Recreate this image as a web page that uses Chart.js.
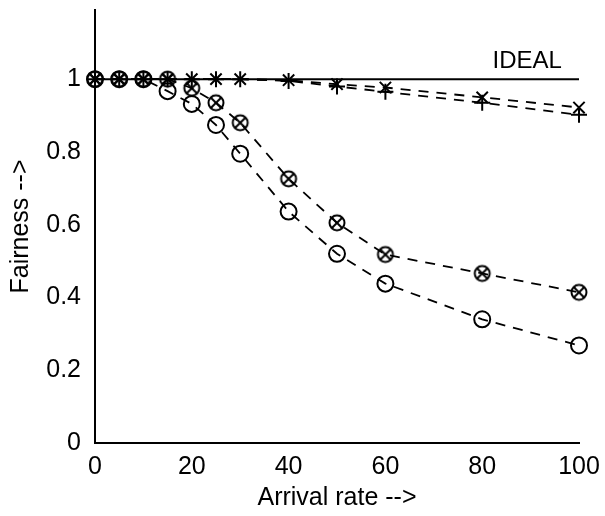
<!DOCTYPE html>
<html>
<head>
<meta charset="utf-8">
<script src="https://cdn.jsdelivr.net/npm/chart.js@4/dist/chart.umd.min.js"></script>
<style>
  html, body { margin: 0; padding: 0; background: #fff; }
  #wrap { width: 605px; height: 516px; }
</style>
</head>
<body>
<div id="wrap"><canvas id="fairChart" width="605" height="516"></canvas></div>
<script>
// arrival rates where each scheme was measured
const rates = [0, 5, 10, 15, 20, 25, 30, 40, 50, 60, 80, 100];

// fairness values
const crossValues  = [1, 1, 1, 1, 1, 1, 1, 0.997, 0.986, 0.977, 0.95, 0.922];
const plusValues   = [1, 1, 1, 1, 1, 1, 1, 0.995, 0.98, 0.965, 0.935, 0.902];
const otimesValues = [1, 1, 1, 1, 0.975, 0.935, 0.88, 0.726, 0.605, 0.518, 0.466, 0.414];
const circleValues = [1, 1, 1, 0.967, 0.932, 0.874, 0.795, 0.636, 0.52, 0.438, 0.34, 0.268];

const idealRates = [0, 100];
const idealValues = [1, 1];

const yTicks = [0, 0.2, 0.4, 0.6, 0.8, 1];
const xTicks = [0, 20, 40, 60, 80, 100];

const FONT = 'Liberation Sans, Arial, Helvetica, sans-serif';

function toPoints(xs, ys) {
  return xs.map((x, i) => ({ x: x, y: ys[i] }));
}

// circle with an x inside it
function makeOtimes() {
  const c = document.createElement('canvas');
  c.width = 20; c.height = 20;
  const g = c.getContext('2d');
  g.strokeStyle = '#000';
  g.lineWidth = 2;
  g.beginPath();
  g.arc(10, 10, 7.5, 0, Math.PI * 2);
  g.stroke();
  g.beginPath();
  g.moveTo(4.7, 4.7); g.lineTo(15.3, 15.3);
  g.moveTo(15.3, 4.7); g.lineTo(4.7, 15.3);
  g.stroke();
  return c;
}

function dashed(label, values, style, radius) {
  return {
    label: label,
    data: toPoints(rates, values),
    borderColor: '#000',
    backgroundColor: 'rgba(0,0,0,0)',
    borderWidth: 1.8,
    borderDash: [10, 8],
    pointStyle: style,
    pointRadius: radius,
    pointBorderWidth: 2,
    pointBorderColor: '#000',
    pointBackgroundColor: 'rgba(0,0,0,0)',
    tension: 0,
    clip: false
  };
}

const idealLabel = {
  id: 'idealLabel',
  afterDatasetsDraw(chart) {
    const ctx = chart.ctx;
    const xs = chart.scales.x, ys = chart.scales.y;
    ctx.save();
    ctx.fillStyle = '#000';
    ctx.font = '24px ' + FONT;
    ctx.textAlign = 'center';
    ctx.textBaseline = 'middle';
    ctx.fillText('IDEAL', xs.getPixelForValue(89.3), ys.getPixelForValue(1.05));
    ctx.restore();
  }
};

new Chart(document.getElementById('fairChart'), {
  type: 'line',
  data: {
    datasets: [
      {
        label: 'IDEAL',
        data: toPoints(idealRates, idealValues),
        borderColor: '#000',
        borderWidth: 2,
        pointRadius: 0,
        fill: false
      },
      dashed('crossRot', crossValues, 'crossRot', 8),
      dashed('cross', plusValues, 'cross', 8),
      dashed('otimes', otimesValues, makeOtimes(), 8),
      dashed('circle', circleValues, 'circle', 8)
    ]
  },
  options: {
    responsive: false,
    animation: false,
    layout: { padding: { top: 8, right: 26, left: 0, bottom: 0 } },
    plugins: {
      legend: { display: false },
      tooltip: { enabled: false }
    },
    scales: {
      x: {
        type: 'linear',
        min: 0,
        max: 100,
        afterBuildTicks: s => { s.ticks = xTicks.map(v => ({ value: v })); },
        afterFit: s => { s.height = 73; s.paddingLeft = 0; s.paddingRight = 0; },
        grid: { display: false, drawTicks: false },
        border: { display: true, color: '#000', width: 2 },
        ticks: { color: '#000', font: { family: FONT, size: 25 }, padding: 9, maxRotation: 0 },
        title: {
          display: true,
          text: 'Arrival rate -->',
          color: '#000',
          font: { family: FONT, size: 25 },
          padding: { top: 0, bottom: 3 }
        }
      },
      y: {
        min: 0,
        max: 1.19,
        afterBuildTicks: s => { s.ticks = yTicks.map(v => ({ value: v })); },
        afterFit: s => { s.width = 95; s.paddingTop = 0; s.paddingBottom = 0; },
        grid: { display: false, drawTicks: false },
        border: { display: true, color: '#000', width: 2 },
        ticks: {
          color: '#000',
          font: { family: FONT, size: 25 },
          padding: 14,
          callback: v => String(Math.round(v * 10) / 10)
        },
        title: {
          display: true,
          text: 'Fairness -->',
          color: '#000',
          font: { family: FONT, size: 25 },
          padding: { top: 6, bottom: 0 }
        }
      }
    }
  },
  plugins: [idealLabel]
});
</script>
</body>
</html>
